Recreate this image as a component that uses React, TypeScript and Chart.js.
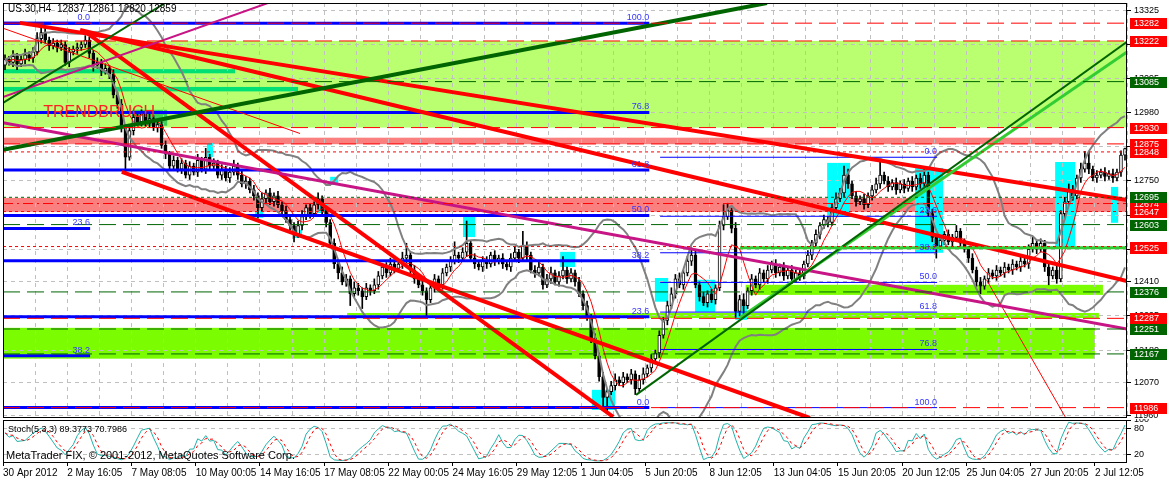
import React, { useEffect, useRef } from "react";
import { Chart, registerables } from "chart.js";

Chart.register(...registerables);

const FONT = "'Liberation Sans', Arial, sans-serif";

// ---------------- DATA ----------------
const BAR_COUNT = 280;
const firstOpen = 13140;

const closes = [
  13160,13150,13170,13145,13160,13175,13165,13185,13230,13250,
  13225,13205,13215,13200,13210,13150,13185,13195,13200,13210,
  13225,13180,13140,13150,13120,13130,13110,13040,13010,12930,
  12830,12920,12965,12950,12975,12945,12960,12930,12940,12870,
  12840,12800,12820,12790,12810,12770,12800,12780,12820,12790,
  12830,12800,12810,12770,12790,12760,12780,12800,12770,12740,
  12750,12720,12700,12660,12690,12710,12680,12700,12670,12650,
  12620,12600,12570,12600,12630,12660,12640,12670,12690,12650,
  12610,12540,12470,12440,12410,12420,12370,12390,12380,12360,
  12390,12380,12400,12430,12460,12440,12470,12455,12470,12490,
  12500,12450,12420,12400,12380,12350,12390,12420,12400,12440,
  12460,12480,12500,12490,12510,12540,12490,12470,12460,12480,
  12470,12500,12480,12490,12470,12460,12490,12510,12490,12530,
  12500,12450,12440,12460,12400,12420,12440,12410,12430,12450,
  12420,12440,12410,12370,12330,12290,12220,12160,12090,12020,
  12040,12060,12080,12070,12090,12080,12100,12050,12080,12100,
  12120,12150,12170,12230,12280,12330,12370,12420,12400,12440,
  12480,12500,12400,12360,12340,12370,12350,12390,12600,12630,
  12650,12590,12310,12350,12330,12380,12420,12400,12440,12420,
  12450,12470,12440,12460,12430,12450,12420,12440,12430,12470,
  12500,12540,12570,12600,12620,12610,12660,12690,12710,12770,
  12740,12700,12680,12690,12670,12700,12720,12740,12770,12750,
  12730,12745,12720,12740,12725,12750,12730,12760,12740,12770,
  12640,12560,12530,12550,12570,12545,12560,12580,12540,12520,
  12490,12450,12410,12395,12420,12440,12430,12450,12440,12460,
  12450,12470,12460,12480,12470,12520,12540,12520,12540,12460,
  12430,12450,12420,12640,12680,12720,12700,12760,12790,12810,
  12790,12760,12770,12780,12765,12775,12760,12780,12837,12859,
];

const upperWicks = [
  15,10,20,10,15,20,10,15,20,25,
  15,10,15,10,15,10,15,10,15,10,
  15,10,10,15,10,15,10,15,10,15,
  10,20,15,10,15,10,15,10,15,10,
  15,10,15,10,15,10,15,10,20,10,
  30,10,15,10,15,10,15,20,10,15,
  15,10,15,10,20,10,15,10,15,10,
  15,10,10,15,20,10,15,10,20,10,
  15,10,15,10,20,15,10,20,15,10,
  15,10,20,15,10,15,20,10,15,20,
  40,10,15,10,15,10,20,15,10,15,
  10,15,45,10,15,75,10,15,10,15,
  15,10,15,10,15,10,15,20,10,50,
  15,10,15,20,10,15,20,10,15,45,
  10,15,10,15,10,15,10,15,10,15,
  10,15,20,10,15,10,15,10,15,20,
  10,15,10,15,10,15,20,15,20,10,
  15,25,20,10,15,10,15,10,15,40,
  25,15,20,15,20,10,15,10,15,10,
  15,10,15,10,15,10,15,10,15,10,
  15,10,15,10,15,10,15,20,15,30,
  20,10,15,10,15,10,15,20,50,10,
  15,10,15,10,15,10,15,10,15,20,
  10,15,10,15,10,15,10,20,10,15,
  10,15,10,15,10,15,10,15,10,15,
  10,15,10,15,10,15,20,10,15,10,
  15,10,15,10,15,20,15,10,20,40,
  40,10,15,10,15,10,15,10,15,2,
];

const lowerWicks = [
  15,10,15,20,10,15,10,15,10,15,
  10,15,10,15,10,10,15,10,15,10,
  10,15,20,10,15,10,15,10,15,15,
  55,10,15,10,15,10,15,10,15,10,
  15,10,15,10,15,10,15,10,15,10,
  15,10,15,10,15,10,15,10,15,10,
  15,10,15,35,10,15,10,15,10,15,
  10,15,25,10,15,10,15,10,15,10,
  15,10,15,20,10,15,40,10,15,40,
  10,15,10,15,10,15,10,15,10,15,
  15,10,15,10,15,60,10,15,10,15,
  10,15,10,15,10,15,10,15,10,15,
  15,10,15,10,15,10,15,10,15,10,
  15,10,15,10,15,10,15,10,15,10,
  15,10,15,10,15,10,15,10,15,30,
  50,10,15,10,15,10,15,20,10,15,
  10,15,10,15,10,15,10,15,10,15,
  10,15,10,15,10,15,10,15,10,15,
  10,15,20,15,40,10,15,10,15,10,
  15,10,15,10,15,10,15,10,15,10,
  10,15,10,15,10,15,10,15,10,15,
  15,10,15,10,15,10,15,10,15,10,
  15,10,15,10,15,10,15,10,15,10,
  10,15,40,10,15,10,15,10,15,10,
  15,10,15,25,10,15,10,15,10,15,
  10,15,10,15,10,15,10,15,10,15,
  30,10,15,10,15,10,15,10,15,10,
  15,10,15,10,15,10,15,10,15,17,
];

const dateLabels = [
  "30 Apr 2012", "2 May 16:05", "7 May 08:05", "10 May 00:05", "14 May 16:05",
  "17 May 08:05", "22 May 00:05", "24 May 16:05", "29 May 12:05", "1 Jun 04:05",
  "5 Jun 20:05", "8 Jun 12:05", "13 Jun 04:05", "15 Jun 20:05", "20 Jun 12:05",
  "25 Jun 04:05", "27 Jun 20:05", "2 Jul 12:05",
];
const DATE_STEP = 16;
const GRID_STEP = 8;

const priceTicks = [13325, 13210, 13095, 12980, 12865, 12750, 12635, 12520, 12410, 12295, 12180, 12070, 11960];
const stochTicks = [100, 80, 20];
const Y_MIN = 11951;
const Y_MAX = 13350;

// horizontal levels (prices)
const redDashLevels = [13282, 13222, 12930, 12875, 12287, 11986];
const greenDashLevels = [13085, 12603, 12376, 12251, 12167];
const redDotLevels = [12848, 12647, 12529];
const redDashDotLevels = [12674];
const greenDotLevels = [12695];
const supportLine = [183.6, 280, 12525]; // bar from, bar to, price

// price tags on the right axis
const redTags = [13282, 13222, 12930, 12875, 12848, 12674, 12647, 12529, 12525, 12287, 11986];
const greenTags = [13085, 12695, 12603, 12376, 12251, 12167];

// trend lines: [bar0, price0, bar1, price1]
const darkGreenThick = [[0, 12855, 190.3, 13350]];
const darkGreenThin = [[0, 13013, 40.4, 13350], [157.7, 12029, 280, 13219]];
const limeTrends = [[183.6, 12289, 280, 13185]];
const magentaThin = [[0, 13033, 66, 13350]];
const magentaThick = [[0, 12946, 280, 12251]];
const redTrends = [
  [4.2, 13283, 280, 12686],
  [19.2, 13259, 280, 12413],
  [29.6, 12781, 201, 11951],
  [20.9, 13249, 152, 11955],
];
const thinRedTrends = [[245, 12417, 264.6, 11955], [0, 13265, 74, 12910]];

// fibonacci sets
const fibNames = ["0.0", "23.6", "38.2", "50.0", "61.8", "76.8", "100.0"];
const fibMainPrices = [11986, 12292, 12481, 12634, 12787, 12981, 13282];
const fibMainSpan = [0, 161];
const fibLeftPrices = [13282, 12590, 12161];
const fibLeftSpan = [0, 21.7];
const fibRightPrices = [12830, 12631, 12508, 12408, 12308, 12182, 11986];
const fibRightSpan = [163.7, 232.7];

// zones: [bar0, bar1, priceTop, priceBottom]
const paleGreenZones = [[0, 280, 13222, 12930]];
const springGreenZones = [[0, 57.8, 13127, 13113], [0, 73.5, 13067, 13052]];
const breakBoxZones = [[32.1, 40.9, 12990, 12936]];
const pinkZones = [[0, 272, 12896, 12874], [0, 280, 12693, 12646]];
const lawnGreenZones = [[0, 272, 12255, 12151], [85.7, 273, 12305, 12288], [185, 274, 12400, 12366]];
const cyanBoxes = [
  [50.8, 52.3, 12878, 12831],
  [62.8, 64.8, 12650, 12626],
  [72, 74.5, 12585, 12558],
  [78.5, 80.7, 12676, 12642],
  [81.5, 83.5, 12764, 12737],
  [114.6, 117.6, 12636, 12561],
  [138.8, 142.5, 12511, 12460],
  [146.7, 152.5, 12046, 11978],
  [162.4, 165.7, 12423, 12343],
  [172.4, 177.4, 12417, 12309],
  [182.4, 185.4, 12343, 12282],
  [205.3, 211, 12811, 12629],
  [227.2, 234.2, 12794, 12508],
  [262.1, 267.1, 12814, 12528],
  [276, 277.8, 12730, 12609],
];

const titleText = "US.30,H4  12837 12861 12820 12859";
const stochText = "Stoch(5,3,3) 89.3773 70.7986";
const copyrightText = "MetaTrader FIX, \u00A9 2001-2012, MetaQuotes Software Corp.";
const breakNote = { text: "TRENDBRUCH", bar: 10, price: 12966 };

// ---------------- DERIVED ----------------
const opens = closes.map((c, i) => (i === 0 ? firstOpen : closes[i - 1]));
const highs = closes.map((c, i) => Math.max(opens[i], c) + upperWicks[i]);
const lows = closes.map((c, i) => Math.min(opens[i], c) - lowerWicks[i]);

function sma(arr: number[], n: number) {
  return arr.map((_, i) => {
    const s = Math.max(0, i - n + 1);
    let t = 0;
    for (let j = s; j <= i; j++) t += arr[j];
    return t / (i - s + 1);
  });
}
function bollinger(arr: number[], n: number, k: number) {
  const up: number[] = [];
  const lo: number[] = [];
  arr.forEach((_, i) => {
    const s = Math.max(0, i - n + 1);
    const w = arr.slice(s, i + 1);
    const m = w.reduce((a, b) => a + b, 0) / w.length;
    const sd = Math.sqrt(w.reduce((a, b) => a + (b - m) * (b - m), 0) / w.length);
    up.push(m + k * sd);
    lo.push(m - k * sd);
  });
  return { up, lo };
}
function stochastic(h: number[], l: number[], c: number[], kp: number, slow: number, dp: number) {
  const k = c.map((_, i) => {
    let num = 0, den = 0;
    for (let j = Math.max(0, i - slow + 1); j <= i; j++) {
      const from = Math.max(0, j - kp + 1);
      let hh = -Infinity, ll = Infinity;
      for (let q = from; q <= j; q++) { hh = Math.max(hh, h[q]); ll = Math.min(ll, l[q]); }
      num += c[j] - ll; den += hh - ll;
    }
    return den === 0 ? 50 : (num / den) * 100;
  });
  return { k, d: sma(k, dp) };
}

const bb = bollinger(closes, 20, 2);
const fastMa = sma(closes, 6);
const stoch = stochastic(highs, lows, closes, 5, 3, 3);

// ---------------- CHART HELPERS ----------------
const pts = (arr: number[]) => arr.map((v, i) => ({ x: i + 0.5, y: v }));
const seg = (s: number[]) => [{ x: s[0], y: s[1] }, { x: s[2], y: s[3] }];
const hline = (p: number, b0 = 0, b1 = BAR_COUNT) => [{ x: b0, y: p }, { x: b1, y: p }];
const lineDs = (data: any[], color: string, width: number, dash: number[], order: number) => ({
  type: "line",
  data,
  borderColor: color,
  borderWidth: width,
  borderDash: dash,
  pointRadius: 0,
  pointHoverRadius: 0,
  fill: false,
  tension: 0,
  order,
});

function buildMainDatasets() {
  const ds: any[] = [];
  redDashLevels.forEach((p) => ds.push(lineDs(hline(p), "#ff0000", 1, [17, 7], 0)));
  greenDashLevels.forEach((p) => ds.push(lineDs(hline(p), "#006400", 1, [17, 7], 0)));
  redDotLevels.forEach((p) => ds.push(lineDs(hline(p), "#ff0000", 1, [3, 3], 0)));
  redDashDotLevels.forEach((p) => ds.push(lineDs(hline(p), "#ff0000", 1, [10, 4, 2, 4], 0)));
  greenDotLevels.forEach((p) => ds.push(lineDs(hline(p), "#006400", 1, [3, 3], 0)));
  ds.push(lineDs(hline(supportLine[2], supportLine[0], supportLine[1]), "#32cd32", 3, [], 0));
  darkGreenThick.forEach((s) => ds.push(lineDs(seg(s), "#006400", 4, [], 1)));
  darkGreenThin.forEach((s) => ds.push(lineDs(seg(s), "#006400", 2, [], 1)));
  limeTrends.forEach((s) => ds.push(lineDs(seg(s), "#32cd32", 3, [], 1)));
  magentaThin.forEach((s) => ds.push(lineDs(seg(s), "#c71585", 2, [], 1)));
  magentaThick.forEach((s) => ds.push(lineDs(seg(s), "#c71585", 3, [], 1)));
  redTrends.forEach((s) => ds.push(lineDs(seg(s), "#ff0000", 4, [], 1)));
  thinRedTrends.forEach((s) => ds.push(lineDs(seg(s), "#ff0000", 1, [], 1)));
  fibMainPrices.forEach((p) => ds.push(lineDs(hline(p, fibMainSpan[0], fibMainSpan[1]), "#0000ff", 3, [], 2)));
  fibLeftPrices.forEach((p) => ds.push(lineDs(hline(p, fibLeftSpan[0], fibLeftSpan[1]), "#0000ff", 3, [], 2)));
  fibRightPrices.forEach((p) => ds.push(lineDs(hline(p, fibRightSpan[0], fibRightSpan[1]), "#0000ff", 1, [], 2)));
  ds.push(lineDs(pts(bb.up), "#808080", 2, [], 3));
  ds.push(lineDs(pts(bb.lo), "#808080", 2, [], 3));
  ds.push(lineDs(pts(fastMa), "#ff0000", 1, [], 3));
  ds.push({
    type: "bar",
    data: closes.map((c, i) => ({ x: i + 0.5, y: [opens[i], c === opens[i] ? c + 2 : c] })),
    backgroundColor: closes.map((c, i) => (c >= opens[i] ? "#ffffff" : "#000000")),
    borderColor: "#000000",
    borderWidth: 1,
    borderSkipped: false,
    barThickness: 3,
    grouped: false,
    minBarLength: 1,
    order: 4,
  });
  ds.push({
    type: "bar",
    data: closes.map((c, i) => ({ x: i + 0.5, y: [lows[i], highs[i]] })),
    backgroundColor: "#000000",
    borderWidth: 0,
    barThickness: 1,
    grouped: false,
    order: 5,
  });
  return ds;
}

const mainPlugin = {
  id: "mt4Main",
  beforeDraw(chart: any) {
    const { ctx, chartArea: a, scales } = chart;
    const xs = scales.x, ys = scales.y;
    ctx.save();
    ctx.fillStyle = "#ffffff";
    ctx.fillRect(0, 0, chart.width, chart.height);
    ctx.beginPath();
    ctx.rect(a.left, a.top, a.right - a.left, a.bottom - a.top);
    ctx.clip();
    const box = (z: number[], color: string) => {
      const x0 = xs.getPixelForValue(z[0]);
      const x1 = xs.getPixelForValue(z[1]);
      const y0 = ys.getPixelForValue(z[2]);
      const y1 = ys.getPixelForValue(z[3]);
      ctx.fillStyle = color;
      ctx.fillRect(Math.min(x0, x1), Math.min(y0, y1), Math.abs(x1 - x0), Math.abs(y1 - y0));
    };
    paleGreenZones.forEach((z) => box(z, "#b9ff70"));
    springGreenZones.forEach((z) => box(z, "#00e074"));
    breakBoxZones.forEach((z) => box(z, "#3ccf5a"));
    pinkZones.forEach((z) => box(z, "#fa8080"));
    lawnGreenZones.forEach((z) => box(z, "#7cfc00"));
    cyanBoxes.forEach((z) => box(z, "#00ffff"));
    ctx.restore();
  },
  afterDraw(chart: any) {
    const { ctx, chartArea: a, scales } = chart;
    const xs = scales.x, ys = scales.y;
    ctx.save();
    ctx.beginPath();
    ctx.rect(a.left, a.top, a.right - a.left, a.bottom - a.top);
    ctx.clip();
    ctx.font = `9px ${FONT}`;
    ctx.fillStyle = "#3434ff";
    ctx.textAlign = "right";
    ctx.textBaseline = "bottom";
    const fibLabels = (prices: number[], span: number[]) => {
      prices.forEach((p, i) => {
        ctx.fillText(fibNames[i], xs.getPixelForValue(span[1]), ys.getPixelForValue(p) - 1);
      });
    };
    fibLabels(fibMainPrices, fibMainSpan);
    fibLabels(fibLeftPrices, fibLeftSpan);
    fibLabels(fibRightPrices, fibRightSpan);
    ctx.font = `16px ${FONT}`;
    ctx.fillStyle = "#ff2020";
    ctx.textAlign = "left";
    ctx.textBaseline = "alphabetic";
    ctx.fillText(breakNote.text, xs.getPixelForValue(breakNote.bar), ys.getPixelForValue(breakNote.price));
    ctx.restore();

    ctx.save();
    ctx.font = `10px ${FONT}`;
    ctx.fillStyle = "#000000";
    ctx.textAlign = "left";
    ctx.textBaseline = "middle";
    ctx.fillText(titleText, 8, 9);
    ctx.strokeStyle = "#000000";
    ctx.lineWidth = 1;
    ctx.strokeRect(a.left + 0.5, a.top + 0.5, a.right - a.left - 1, a.bottom - a.top - 1);
    ctx.font = `9px ${FONT}`;
    ctx.textBaseline = "middle";
    const tag = (p: number, bg: string) => {
      const y = Math.round(ys.getPixelForValue(p));
      ctx.fillStyle = bg;
      ctx.fillRect(a.right + 3, y - 5, chart.width - a.right - 3, 11);
      ctx.fillStyle = "#ffffff";
      ctx.fillText(String(p), a.right + 7, y + 0.5);
    };
    redTags.forEach((p) => tag(p, "#ff0000"));
    greenTags.forEach((p) => tag(p, "#006400"));
    ctx.restore();
  },
};

const stochPlugin = {
  id: "mt4Stoch",
  beforeDraw(chart: any) {
    const { ctx } = chart;
    ctx.save();
    ctx.fillStyle = "#ffffff";
    ctx.fillRect(0, 0, chart.width, chart.height);
    ctx.restore();
  },
  afterDraw(chart: any) {
    const { ctx, chartArea: a } = chart;
    ctx.save();
    ctx.strokeStyle = "#000000";
    ctx.lineWidth = 1;
    ctx.strokeRect(a.left + 0.5, a.top + 0.5, a.right - a.left - 1, a.bottom - a.top - 1);
    ctx.fillStyle = "#000000";
    ctx.textAlign = "left";
    ctx.textBaseline = "middle";
    ctx.font = `9px ${FONT}`;
    ctx.fillText(stochText, a.left + 5, a.top + 10);
    ctx.font = `11px ${FONT}`;
    ctx.fillText(copyrightText, a.left + 3, a.top + 36);
    ctx.restore();
  },
};

const gridTicks = Array.from({ length: BAR_COUNT / GRID_STEP + 1 }, (_, k) => k * GRID_STEP);

function mainConfig(): any {
  return {
    type: "bar",
    data: { datasets: buildMainDatasets() },
    options: {
      responsive: false,
      maintainAspectRatio: false,
      animation: false,
      devicePixelRatio: 1,
      events: [],
      layout: { padding: { left: 3, top: 3, right: 0, bottom: 1 } },
      plugins: { legend: { display: false }, tooltip: { enabled: false } },
      scales: {
        x: {
          type: "linear",
          min: 0,
          max: BAR_COUNT,
          offset: false,
          afterBuildTicks: (s: any) => { s.ticks = gridTicks.map((v) => ({ value: v })); },
          ticks: { display: false },
          grid: { color: "#c0c0c0", drawTicks: false, offset: false },
          border: { display: false, dash: [4, 4] },
          afterFit: (s: any) => { s.height = 0; s.paddingLeft = 0; s.paddingRight = 0; },
        },
        y: {
          type: "linear",
          position: "right",
          min: Y_MIN,
          max: Y_MAX,
          afterBuildTicks: (s: any) => { s.ticks = priceTicks.map((v) => ({ value: v })); },
          ticks: {
            color: "#000000",
            font: { family: FONT, size: 9 },
            padding: 3,
            autoSkip: false,
            callback: (v: any) => String(v),
          },
          grid: { color: "#c0c0c0", tickColor: "#000000", tickLength: 4 },
          border: { display: false, dash: [4, 4] },
          afterFit: (s: any) => { s.width = 40; s.paddingTop = 0; s.paddingBottom = 0; },
        },
      },
    },
    plugins: [mainPlugin],
  };
}

function stochConfig(): any {
  return {
    type: "line",
    data: {
      datasets: [
        lineDs(pts(stoch.k), "#20b2aa", 1, [], 1),
        lineDs(pts(stoch.d), "#ff0000", 1, [3, 3], 0),
      ],
    },
    options: {
      responsive: false,
      maintainAspectRatio: false,
      animation: false,
      devicePixelRatio: 1,
      events: [],
      layout: { padding: { left: 3, top: 1, right: 0, bottom: 0 } },
      plugins: { legend: { display: false }, tooltip: { enabled: false } },
      scales: {
        x: {
          type: "linear",
          min: 0,
          max: BAR_COUNT,
          offset: false,
          afterBuildTicks: (s: any) => { s.ticks = dateLabels.map((_, k) => ({ value: k * DATE_STEP })); },
          ticks: {
            callback: (_v: any, i: number) => dateLabels[i] || "",
            align: "start",
            maxRotation: 0,
            autoSkip: false,
            color: "#000000",
            font: { family: FONT, size: 10 },
            padding: 1,
          },
          grid: { drawOnChartArea: false, drawTicks: true, tickLength: 3, tickColor: "#000000" },
          border: { display: false },
          afterFit: (s: any) => { s.height = 19; s.paddingLeft = 0; s.paddingRight = 0; },
        },
        y: {
          type: "linear",
          position: "right",
          min: 0,
          max: 100,
          afterBuildTicks: (s: any) => { s.ticks = stochTicks.map((v) => ({ value: v })); },
          ticks: { color: "#000000", font: { family: FONT, size: 9 }, padding: 3, autoSkip: false },
          grid: { color: "#c0c0c0", tickColor: "#000000", tickLength: 4 },
          border: { display: false, dash: [4, 4] },
          afterFit: (s: any) => { s.width = 40; s.paddingTop = 0; s.paddingBottom = 0; },
        },
      },
    },
    plugins: [stochPlugin],
  };
}

export default function App() {
  const mainRef = useRef<HTMLCanvasElement | null>(null);
  const stochRef = useRef<HTMLCanvasElement | null>(null);

  useEffect(() => {
    if (!mainRef.current || !stochRef.current) return;
    const c1 = new Chart(mainRef.current, mainConfig());
    const c2 = new Chart(stochRef.current, stochConfig());
    return () => {
      c1.destroy();
      c2.destroy();
    };
  }, []);

  return (
    <div style={{ position: "absolute", left: 0, top: 0, width: 1167, height: 482, background: "#ffffff", overflow: "hidden" }}>
      <canvas ref={mainRef} width={1167} height={419} style={{ position: "absolute", left: 0, top: 0, width: 1167, height: 419 }} />
      <canvas ref={stochRef} width={1167} height={63} style={{ position: "absolute", left: 0, top: 419, width: 1167, height: 63 }} />
    </div>
  );
}
